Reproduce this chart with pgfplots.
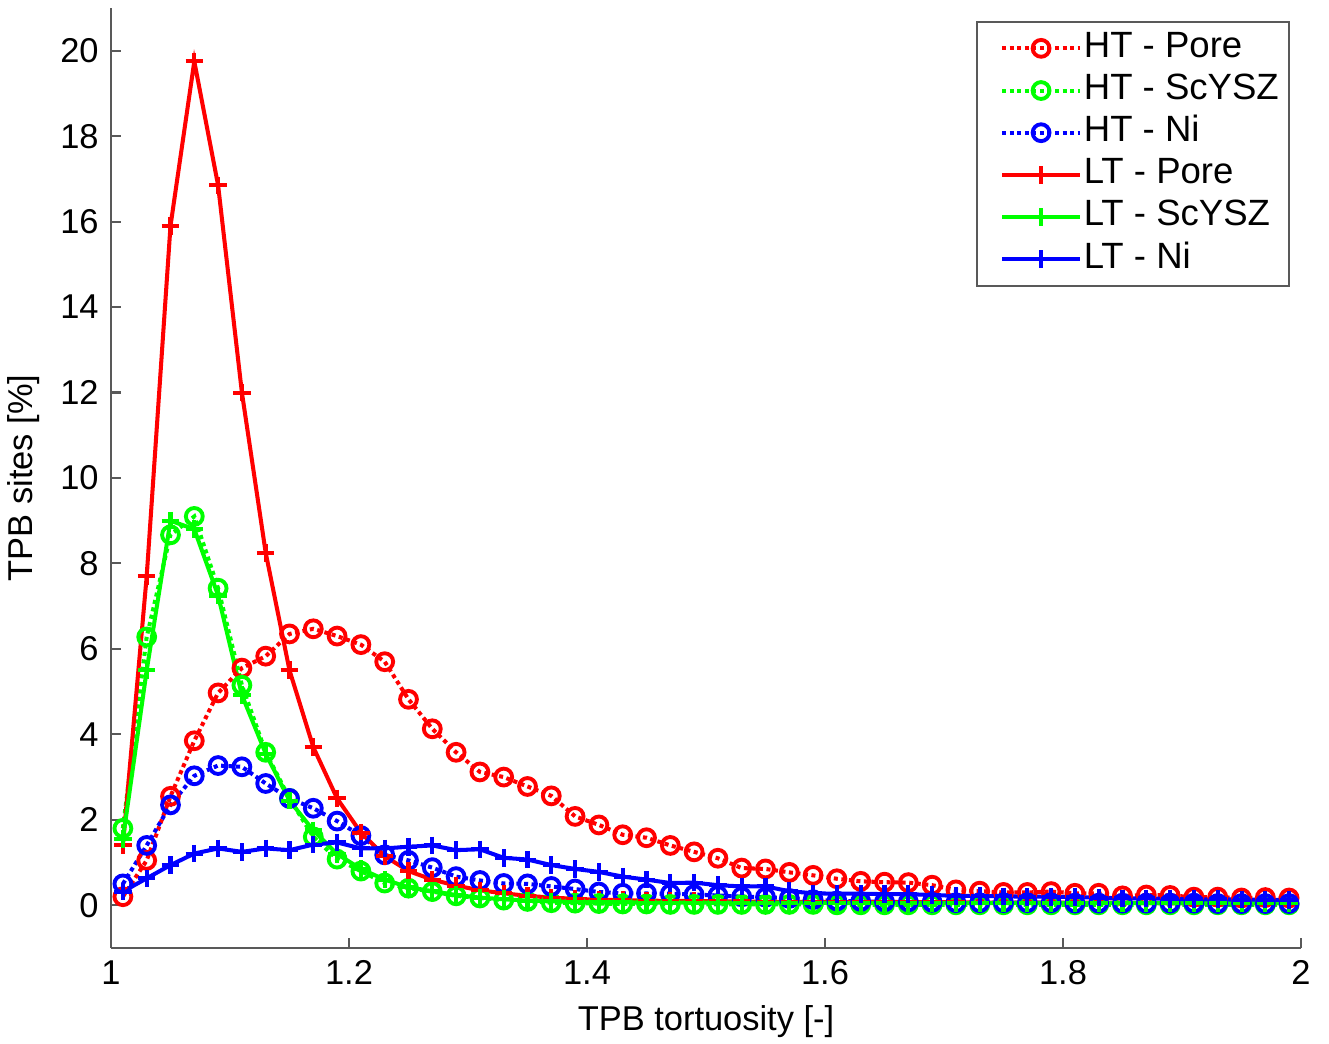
\documentclass[border=0pt]{standalone}
\usepackage{fontspec}
\setmainfont{Liberation Sans}
\usepackage{pgfplots}
\usepackage{pgfplotstable}
\pgfplotsset{compat=1.18}

% x  HTpore HTscysz HTni LTpore LTscysz LTni
\pgfplotstableread{
x    htp   hts   htn   ltp    lts   ltn
1.01 0.20  1.80  0.50  1.40   1.55  0.32
1.03 1.05  6.28  1.40  7.70   5.50  0.63
1.05 2.55  8.67  2.35  15.90  9.00  0.94
1.07 3.85  9.10  3.03  19.75  8.80  1.21
1.09 4.97  7.42  3.27  16.85  7.25  1.33
1.11 5.55  5.15  3.24  12.00  4.92  1.25
1.13 5.83  3.58  2.85  8.25   3.55  1.33
1.15 6.35  2.50  2.50  5.50   2.45  1.29
1.17 6.47  1.60  2.27  3.70   1.75  1.42
1.19 6.30  1.08  1.97  2.50   1.20  1.47
1.21 6.10  0.80  1.63  1.70   0.85  1.33
1.23 5.70  0.52  1.18  1.15   0.60  1.33
1.25 4.82  0.40  1.05  0.80   0.42  1.37
1.27 4.13  0.32  0.88  0.60   0.33  1.40
1.29 3.58  0.22  0.67  0.46   0.24  1.29
1.31 3.12  0.17  0.58  0.35   0.18  1.31
1.33 3.00  0.12  0.51  0.28   0.14  1.11
1.35 2.78  0.09  0.50  0.22   0.11  1.07
1.37 2.56  0.06  0.44  0.18   0.09  0.94
1.39 2.08  0.05  0.38  0.15   0.08  0.85
1.41 1.88  0.04  0.31  0.13   0.07  0.78
1.43 1.65  0.03  0.28  0.12   0.07  0.67
1.45 1.58  0.03  0.28  0.11   0.06  0.60
1.47 1.40  0.02  0.27  0.10   0.06  0.52
1.49 1.25  0.02  0.25  0.10   0.06  0.53
1.51 1.10  0.02  0.23  0.09   0.06  0.47
1.53 0.87  0.02  0.20  0.09   0.06  0.44
1.55 0.85  0.02  0.19  0.08   0.06  0.44
1.57 0.77  0.02  0.16  0.08   0.06  0.33
1.59 0.70  0.02  0.13  0.08   0.06  0.28
1.61 0.62  0.01  0.10  0.08   0.05  0.27
1.63 0.56  0.01  0.09  0.07   0.05  0.27
1.65 0.54  0.01  0.08  0.07   0.05  0.26
1.67 0.53  0.01  0.08  0.07   0.05  0.26
1.69 0.47  0.01  0.07  0.07   0.05  0.24
1.71 0.36  0.01  0.06  0.07   0.05  0.22
1.73 0.33  0.01  0.06  0.06   0.05  0.22
1.75 0.30  0.01  0.06  0.06   0.05  0.21
1.77 0.30  0.01  0.06  0.06   0.05  0.20
1.79 0.32  0.01  0.06  0.06   0.05  0.20
1.81 0.28  0.01  0.05  0.06   0.05  0.19
1.83 0.28  0.01  0.05  0.06   0.05  0.18
1.85 0.22  0.01  0.05  0.06   0.05  0.16
1.87 0.24  0.01  0.05  0.05   0.05  0.16
1.89 0.23  0.01  0.05  0.05   0.05  0.15
1.91 0.19  0.01  0.05  0.05   0.05  0.14
1.93 0.19  0.01  0.04  0.05   0.05  0.14
1.95 0.17  0.01  0.04  0.05   0.05  0.13
1.97 0.18  0.01  0.04  0.05   0.05  0.13
1.99 0.17  0.01  0.04  0.05   0.05  0.12
}\tortdata

\begin{document}
\begin{tikzpicture}
\begin{axis}[
  name=ax,
  scale only axis,
  width=11.9cm, height=9.4cm,
  xmin=1, xmax=2, ymin=-1, ymax=21,
  axis lines*=left,
  axis line style={draw=black!65, line width=0.6pt},
  tick style={draw=black!65, line width=0.6pt},
  tick align=inside,
  major tick length=1mm,
  xtick={1,1.2,...,2},
  ytick={0,2,...,20},
  xticklabels={1,1.2,1.4,1.6,1.8,2},
  /pgf/number format/assume math mode=true,
  tick label style={font=\fontsize{9.8}{12}\selectfont},
  label style={font=\fontsize{9.8}{12}\selectfont},
  xlabel={TPB tortuosity [-]},
  ylabel={TPB sites [\%]},
  xlabel style={yshift=1pt},
  ylabel style={yshift=-1pt},
  legend cell align=left,
  legend style={
    at={(0.9908,0.9862)}, anchor=north east,
    draw=black!65, line width=0.6pt,
    font=\fontsize{10.4}{12}\selectfont,
    inner xsep=2.4pt, inner ysep=1.5pt,
    row sep=0pt,
    nodes={inner xsep=0.5pt, inner ysep=1pt, text height=0.75em, text depth=0.25em},
  },
  legend image code/.code={
    \path (-0.15cm,0cm);
    \draw[mark repeat=2, mark phase=2]
      plot coordinates {(0cm,0cm) (0.39cm,0cm) (0.78cm,0cm)};
  },
  every axis plot/.append style={line width=1.15pt},
  htstyle/.style={densely dotted, mark=o, mark size=2.4pt,
    mark options={solid, line width=1.1pt}},
  ltstyle/.style={solid, mark=+, mark size=2.5pt,
    mark options={solid, line width=1.15pt}},
]
\addplot[red, htstyle] table[x=x, y=htp] {\tortdata};
\addlegendentry{HT - Pore}
\addplot[green, htstyle] table[x=x, y=hts] {\tortdata};
\addlegendentry{HT - ScYSZ}
\addplot[blue, htstyle] table[x=x, y=htn] {\tortdata};
\addlegendentry{HT - Ni}
\addplot[red, ltstyle] table[x=x, y=ltp] {\tortdata};
\addlegendentry{LT - Pore}
\addplot[green, ltstyle] table[x=x, y=lts] {\tortdata};
\addlegendentry{LT - ScYSZ}
\addplot[blue, ltstyle] table[x=x, y=ltn] {\tortdata};
\addlegendentry{LT - Ni}
\end{axis}
\pgfresetboundingbox
\path ([shift={(-11.1mm,-9.6mm)}]ax.south west) rectangle ([shift={(2.8mm,0.8mm)}]ax.north east);
\end{tikzpicture}
\end{document}
